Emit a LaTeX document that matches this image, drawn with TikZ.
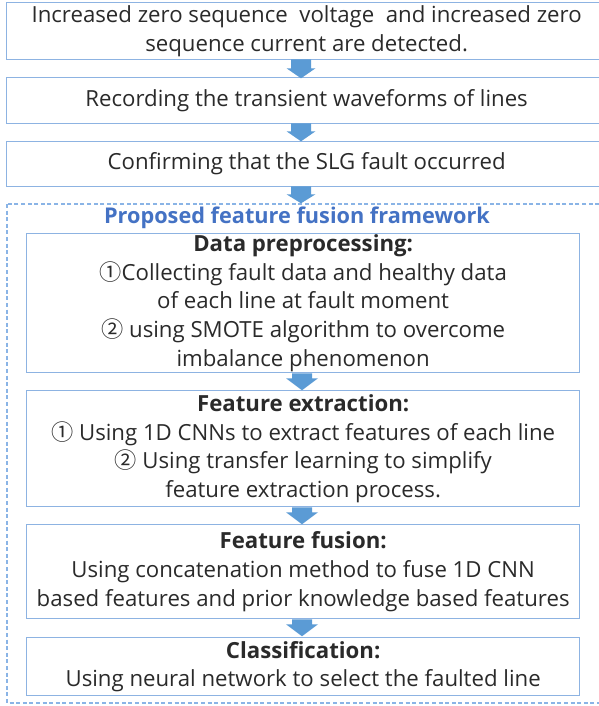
\documentclass[tikz,border=0pt]{standalone}
\usepackage{fontspec}
\setmainfont{Open Sans}
\newfontfamily\cjk{Noto Sans CJK SC}
\usetikzlibrary{calc}
\definecolor{boxblue}{HTML}{8DB3E2}
\definecolor{dashblue}{HTML}{8AB4E6}
\definecolor{arrowblue}{HTML}{5B9BD5}
\definecolor{titleblue}{HTML}{4472C4}
\definecolor{txt}{HTML}{2A2A2A}
\newcommand\cn[1]{{\cjk #1}}
\begin{document}
\begin{tikzpicture}[x=1pt,y=-1pt,
  box/.style={draw=boxblue, line width=1.3pt, anchor=north west, inner sep=0pt,
    text=txt, align=center, font=\fontsize{22.2}{28.7}\selectfont},
  blkarrow/.style={fill=arrowblue, draw=none}]
\useasboundingbox (0,0) rectangle (598,706);
\fill[white] (0,0) rectangle (598,706);
% top boxes
\node[box, minimum width=600pt, minimum height=57pt] (b1) at (6,2)
  {Increased zero sequence\ \ voltage\ \ and increased zero\\sequence current are detected.};
\node[box, minimum width=600pt, minimum height=46pt] (b2) at (6,77)
  {Recording the transient waveforms of lines};
\node[box, minimum width=600pt, minimum height=45pt] (b3) at (6,141)
  {Confirming that the SLG fault occurred};
% framework
\draw[dashblue, line width=1.2pt, dash pattern=on 4pt off 2.6pt] (7,204) rectangle (606,703);
\node[text=titleblue, font=\fontsize{21.7}{24}\bfseries\selectfont] (title) at (297,218)
  {Proposed feature fusion framework};
\node[box, minimum width=553pt, minimum height=139pt] (f1) at (26,233)
  {\textbf{Data preprocessing:}\\\cn{①}Collecting fault data and healthy data\\of each line at fault moment\\\cn{②} using SMOTE algorithm to overcome\\imbalance phenomenon};
\node[box, minimum width=553pt, minimum height=116pt] (f2) at (26,390)
  {\textbf{Feature extraction:}\\\cn{①} Using 1D CNNs to extract features of each line\\\cn{②} Using transfer learning to simplify\\feature extraction process.};
\node[box, minimum width=553pt, minimum height=94pt] (f3) at (26,524)
  {\textbf{Feature fusion:}\\Using concatenation method to fuse 1D CNN\\based features and prior knowledge based features};
\node[box, minimum width=553pt, minimum height=58pt] (f4) at (26,637)
  {\textbf{Classification:}\\Using neural network to select the faulted line};
% block arrows
\foreach \s/\sh/\hd in {b1/9/10, b2/8/10, b3/8/9}{
  \fill[blkarrow] ($(\s.south -| 301,0)+(-10,-1)$) -- ++(20,0) -- ++(0,\sh) -- ++(4.5,0)
    -- ++(-14.5,\hd) -- ++(-14.5,-\hd) -- ++(4.5,0) -- cycle;
}
\foreach \s/\sh/\hd in {f1/5/12, f2/5/12, f3/5/12}{
  \fill[blkarrow] ($(\s.south -| 302,0)+(-10,0)$) -- ++(20,0) -- ++(0,\sh) -- ++(6,0)
    -- ++(-16,\hd) -- ++(-16,-\hd) -- ++(6,0) -- cycle;
}
\end{tikzpicture}
\end{document}
